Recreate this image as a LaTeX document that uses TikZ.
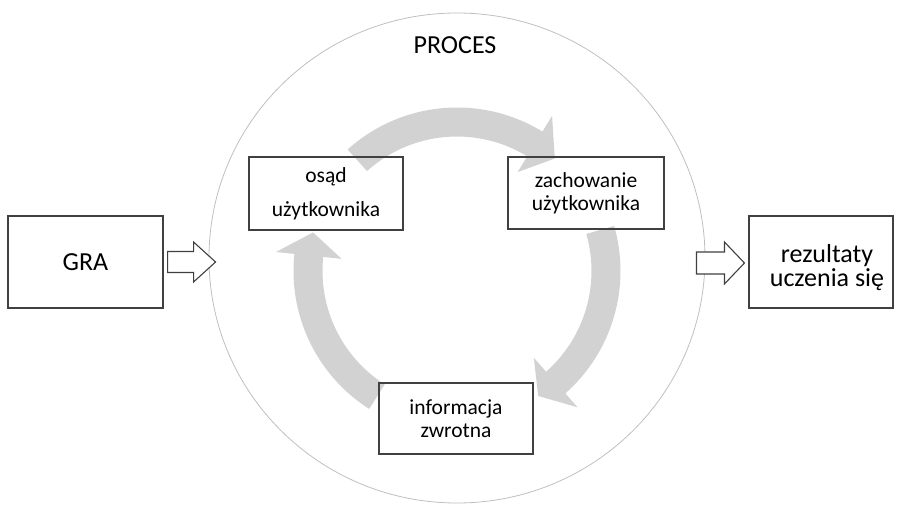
\documentclass[tikz,border=0pt]{standalone}
\usepackage{fontspec}
\setmainfont{Carlito}
\usetikzlibrary{calc}
\definecolor{boxline}{RGB}{64,64,64}
\definecolor{ringgray}{RGB}{191,191,191}
\definecolor{cyclegray}{RGB}{210,210,210}
\def\Ro{163.5}\def\Ri{134.5}\def\Rm{149}\def\Ho{182}\def\Hi{116}
\newcommand\cycarrow[3]{%
  \fill[cyc] ($(C)+(#1:\Ro)$) arc[start angle=#1, end angle=#2, radius=\Ro]
    -- ($(C)+(#2:\Ho)$) -- ($(C)+(#3:\Rm)$) -- ($(C)+(#2:\Hi)$)
    -- ($(C)+(#2:\Ri)$) arc[start angle=#2, end angle=#1, radius=\Ri] -- cycle;}
\begin{document}
\begin{tikzpicture}[x=1pt,y=1pt,
  box/.style={draw=boxline, line width=1.1pt, rectangle, align=center, inner sep=0pt},
  small/.style={font=\fontsize{21.5}{23}\selectfont},
  big/.style={font=\fontsize{26}{24}\selectfont},
  blockarrow/.style={draw=boxline, line width=1.1pt, fill=white, line join=miter},
  cyc/.style={fill=cyclegray}]
\useasboundingbox (0,0) rectangle (898,507);
% outer ring
\draw[ringgray, line width=0.8pt] (457,249) ellipse [x radius=248, y radius=245];
% cycle arrows
\coordinate (C) at (457,236);
\cycarrow{132}{58.5}{49}
\cycarrow{16}{-48.5}{-57}
\cycarrow{237.5}{174}{165}
% boxes
\node[box, big, minimum width=155, minimum height=92] (gra) at (85.5,245) {GRA};
\node[box, minimum width=144, minimum height=92] (rez) at (821,245) {};
\node[big, align=center, inner sep=0pt] (reztext) at ($(rez.center)+(6,-6)$) {rezultaty\\uczenia się};
\node[box, small, minimum width=154, minimum height=73] (osad) at (326,313.5) {osąd\\[11pt]użytkownika};
\node[box, small, minimum width=156, minimum height=72] (zach) at (586,314) {zachowanie\\użytkownika};
\node[box, small, minimum width=154, minimum height=71] (info) at (456,88.5) {informacja\\zwrotna};
\node[big, anchor=base] (proces) at (455,453) {PROCES};
% block arrows
\draw[blockarrow] ($(gra.east)+(4,-10.5)$) -- ($(gra.east)+(30,-10.5)$) -- ($(gra.east)+(30,-20)$)
  -- ($(gra.east)+(52,0)$) -- ($(gra.east)+(30,20)$) -- ($(gra.east)+(30,10.5)$)
  -- ($(gra.east)+(4,10.5)$) -- cycle;
\draw[blockarrow] ($(rez.west)+(-52,-12)$) -- ($(rez.west)+(-24,-12)$) -- ($(rez.west)+(-24,-22)$)
  -- ($(rez.west)+(-4,-1)$) -- ($(rez.west)+(-24,20)$) -- ($(rez.west)+(-24,10)$)
  -- ($(rez.west)+(-52,10)$) -- cycle;
\end{tikzpicture}
\end{document}
